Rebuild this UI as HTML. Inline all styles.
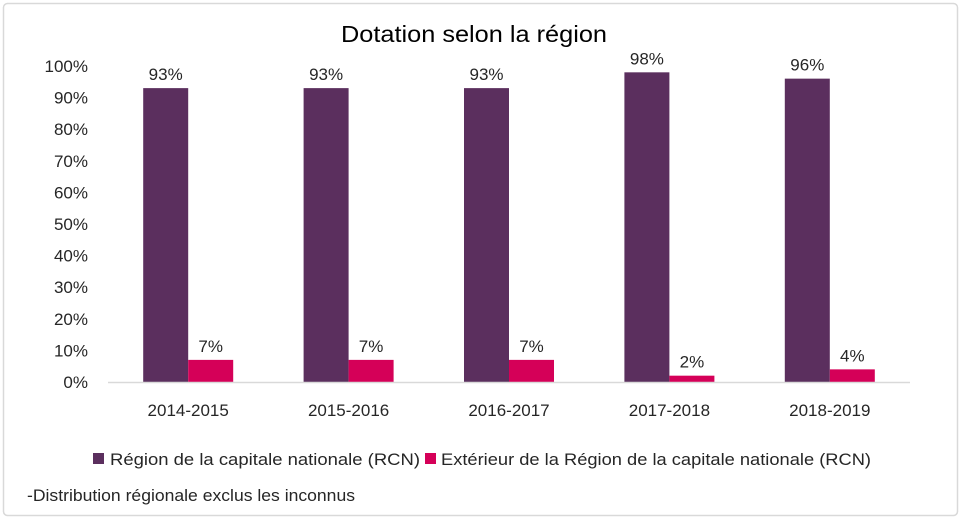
<!DOCTYPE html>
<html><head><meta charset="utf-8">
<style>
html,body{margin:0;padding:0;background:#fff;}
svg{display:block;font-family:"Liberation Sans",sans-serif;}
</style></head>
<body>
<svg id="chart" width="962" height="520">
  <rect x="3.5" y="3.5" width="954" height="512" rx="4" fill="#fff" stroke="#d9d9d9" stroke-width="1.5"/>
  <text x="341" y="42" textLength="266" lengthAdjust="spacingAndGlyphs" font-size="23" fill="#000">Dotation selon la région</text>
  <g id="grid"></g>
  <g id="bars"></g>
  <line x1="108" y1="382.5" x2="910" y2="382.5" stroke="#d9d9d9" stroke-width="1.5"/>
  <g>
    <rect x="93" y="453" width="11" height="11" fill="#5b2f5e"/>
    <text x="110" y="465" textLength="310" lengthAdjust="spacingAndGlyphs" font-size="17" fill="#262626">Région de la capitale nationale (RCN)</text>
    <rect x="425" y="453" width="11" height="11" fill="#d50058"/>
    <text x="441" y="465" textLength="430" lengthAdjust="spacingAndGlyphs" font-size="17" fill="#262626">Extérieur de la Région de la capitale nationale (RCN)</text>
  </g>
  <text x="27" y="501" textLength="328" lengthAdjust="spacingAndGlyphs" font-size="17" fill="#262626">-Distribution régionale exclus les inconnus</text>
</svg>
<script>
const categories = ["2014-2015","2015-2016","2016-2017","2017-2018","2018-2019"];
const rcnValues = [93,93,93,98,96];
const outsideValues = [7,7,7,2,4];
const yTicks = [0,10,20,30,40,50,60,70,80,90,100];

const NS = "http://www.w3.org/2000/svg";
const x0 = 108, x1 = 910, yBase = 382, yTop = 66;
const band = (x1 - x0) / categories.length;
const yScale = v => yBase - (yBase - yTop) * v / 100;
const xCenter = i => x0 + band * (i + 0.5);
const barW = 45;

function mk(tag, attrs, parent, txt) {
  const e = document.createElementNS(NS, tag);
  for (const k in attrs) e.setAttribute(k, attrs[k]);
  if (txt !== undefined) e.textContent = txt;
  parent.appendChild(e);
  return e;
}
const grid = document.getElementById("grid");
const bars = document.getElementById("bars");

yTicks.forEach(t => {
  const el = mk("text", {x: 88, y: yScale(t) + 6, "text-anchor": "end", "font-size": 17, fill: "#262626"}, grid, t + "%");
  
  
});

categories.forEach((c, i) => {
  const cx = xCenter(i);
  const lab = mk("text", {x: cx, y: 416, "text-anchor": "middle", "font-size": 17, fill: "#262626"}, bars, c);
  
  

  const series = [[rcnValues[i], "#5b2f5e", cx - barW, "bar-rcn"], [outsideValues[i], "#d50058", cx, "bar-outside"]];
  series.forEach(s => {
    const y = yScale(s[0]);
    const r = mk("rect", {x: s[2], y: y, width: barW, height: yBase - y, fill: s[1]}, bars);
    
    
    const v = mk("text", {x: s[2] + barW / 2, y: y - 8, "text-anchor": "middle", "font-size": 17, fill: "#262626"}, bars, s[0] + "%");
    
    
  });
});
</script>
</body></html>
